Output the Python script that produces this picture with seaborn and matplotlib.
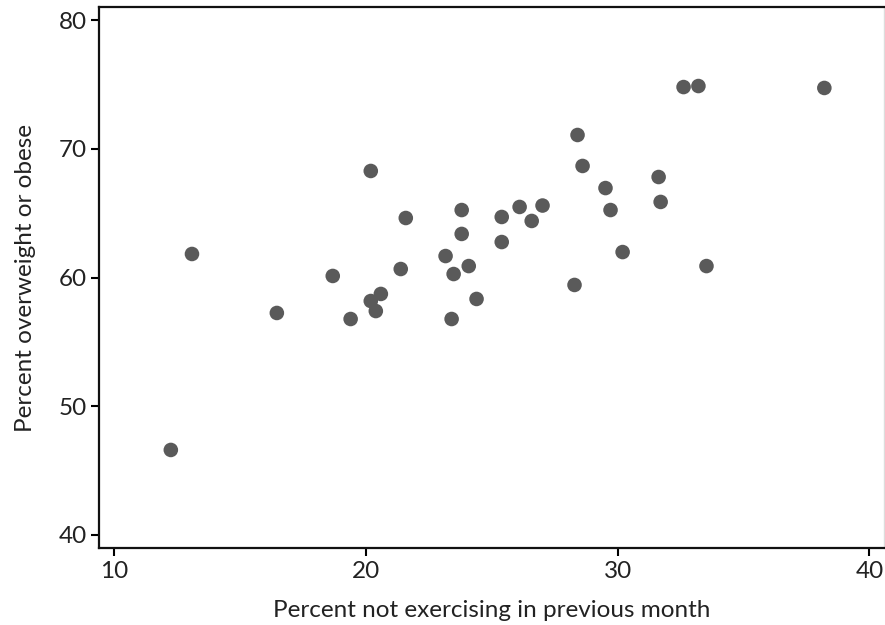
import matplotlib
matplotlib.use("Agg")
import matplotlib.pyplot as plt
import pandas as pd
import seaborn as sns

# percent not exercising in previous month
no_exercise = [12.26, 13.10, 16.47, 18.69, 19.40, 20.20, 20.20, 20.40, 20.60, 21.39,
               21.59, 23.17, 23.41, 23.49, 23.81, 23.81, 24.09, 24.40, 25.40, 25.40,
               26.11, 26.59, 27.02, 28.29, 28.41, 28.61, 29.52, 29.72, 30.20, 31.63,
               31.71, 32.62, 33.21, 33.53, 38.21]
# percent overweight or obese
overweight = [46.58, 61.83, 57.24, 60.12, 56.77, 58.17, 68.29, 57.39, 58.72, 60.66,
              64.63, 61.67, 56.77, 60.27, 63.39, 65.25, 60.89, 58.33, 62.76, 64.71,
              65.49, 64.40, 65.60, 59.42, 71.09, 68.68, 66.96, 65.25, 61.98, 67.82,
              65.88, 74.82, 74.90, 60.89, 74.75]

x_ticks = [10, 20, 30, 40]
y_ticks = [40, 50, 60, 70, 80]

sns.set_style("white")
plt.rcParams["font.family"] = ["Lato", "DejaVu Sans"]

df = pd.DataFrame({"x": no_exercise, "y": overweight})

fig = plt.figure(figsize=(8.85, 6.25), dpi=100)
ax = fig.add_axes([0.1122, 0.1232, 0.8867, 0.8656])
sns.scatterplot(data=df, x="x", y="y", ax=ax, color="#5a5a5a", s=110,
                edgecolor="none", linewidth=0)

ax.set_xlim(9.42, 40.58)
ax.set_ylim(38.95, 81.05)
ax.set_xticks(x_ticks)
ax.set_yticks(y_ticks)
ax.tick_params(axis="both", direction="out", length=6, width=1.5, color="black",
               labelsize=17.5, labelcolor="#222222", pad=3, bottom=True, left=True)
ax.set_xlabel("Percent not exercising in previous month", fontsize=17.5,
              color="#222222", labelpad=13)
ax.set_ylabel("Percent overweight or obese", fontsize=17.5, color="#222222",
              labelpad=16)

for side in ["left", "bottom", "top"]:
    ax.spines[side].set_color("#111111")
    ax.spines[side].set_linewidth(1.6)
ax.spines["right"].set_color("#dddddd")
ax.spines["right"].set_linewidth(1.0)

fig.savefig("out.png", dpi=100)
